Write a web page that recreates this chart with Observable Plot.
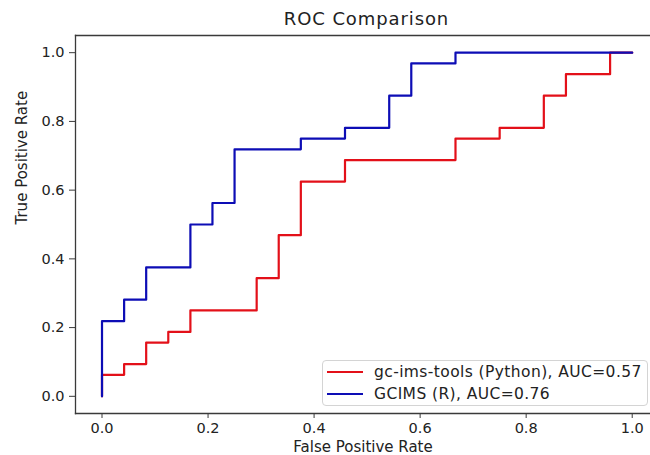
<!DOCTYPE html>
<html>
<head>
<meta charset="utf-8">
<script src="https://cdn.jsdelivr.net/npm/d3@7"></script>
<script src="https://cdn.jsdelivr.net/npm/@observablehq/plot@0.6"></script>
<style>
  html, body { margin: 0; padding: 0; background: #fff; }
  #wrap { position: relative; width: 650px; height: 455px; overflow: hidden; font-family: "DejaVu Sans", sans-serif; }
  #title { position: absolute; left: 75px; width: 583px; top: 8px; text-align: center; font-size: 18px; letter-spacing: 0.9px; color: #222; }
  #legend { position: absolute; left: 322px; top: 360px; width: 326px; height: 46px; box-sizing: border-box;
            border: 1px solid #d4d4d4; border-radius: 4px; background: rgba(255,255,255,0.85); }
  .row { position: absolute; left: 4px; height: 20px; display: flex; align-items: center; font-size: 15.5px; letter-spacing: 0.4px; color: #222; white-space: nowrap; }
  .sw { width: 36px; height: 2px; margin-right: 11px; }
</style>
</head>
<body>
<div id="wrap">
  <div id="chart"></div>
  <div id="title">ROC Comparison</div>
  <div id="legend"></div>
</div>
<script>
const seriesNames = ["gc-ims-tools (Python), AUC=0.57", "GCIMS (R), AUC=0.76"];
const seriesColors = ["#e31019", "#0d0db5"];

const redFpr = [0, 0, 0.0417, 0.0833, 0.125, 0.1667, 0.2917, 0.3333, 0.375, 0.4583, 0.6667, 0.75, 0.8333, 0.875, 0.9583, 1.0];
const redTpr = [0, 0.0625, 0.0938, 0.1563, 0.1875, 0.25, 0.3438, 0.4688, 0.625, 0.6875, 0.75, 0.7813, 0.875, 0.9375, 1.0, 1.0];
const blueFpr = [0, 0, 0.0417, 0.0833, 0.1667, 0.2083, 0.25, 0.375, 0.4583, 0.5417, 0.5833, 0.6667, 1.0];
const blueTpr = [0, 0.2188, 0.2813, 0.375, 0.5, 0.5625, 0.7188, 0.75, 0.7813, 0.875, 0.9688, 1.0, 1.0];

const xTicks = [0, 0.2, 0.4, 0.6, 0.8, 1.0];
const yTicks = [0, 0.2, 0.4, 0.6, 0.8, 1.0];

const xLabel = "False Positive Rate";
const yLabel = "True Positive Rate";

const red = redFpr.map((x, i) => ({x, y: redTpr[i]}));
const blue = blueFpr.map((x, i) => ({x, y: blueTpr[i]}));

const frameColor = "#3a3a3a";

const chart = Plot.plot({
  width: 650,
  height: 455,
  marginLeft: 75,
  marginRight: 0,
  marginTop: 35,
  marginBottom: 42,
  style: {fontFamily: "DejaVu Sans, sans-serif", fontSize: "14px", color: "#222", background: "#fff"},
  x: {domain: [-0.05, 1.0345], label: null},
  y: {domain: [-0.05, 1.05], label: null},
  marks: [
    Plot.axisX(xTicks, {tickSize: 5, tickPadding: 4, tickFormat: d3.format(".1f"), stroke: frameColor, fontSize: 14.5, label: null}),
    Plot.axisY(yTicks, {tickSize: 6, tickPadding: 5, tickFormat: d3.format(".1f"), stroke: frameColor, fontSize: 14.5, label: null}),
    Plot.line(red, {x: "x", y: "y", curve: "step-after", stroke: seriesColors[0], strokeWidth: 2.2}),
    Plot.line(blue, {x: "x", y: "y", curve: "step-after", stroke: seriesColors[1], strokeWidth: 2.2}),
    Plot.frame({anchor: "top", stroke: frameColor, strokeWidth: 1.3}),
    Plot.frame({anchor: "left", stroke: frameColor, strokeWidth: 1.3}),
    Plot.frame({anchor: "bottom", stroke: frameColor, strokeWidth: 1.3}),
    Plot.text([xLabel], {frameAnchor: "bottom", text: d => d, dy: 34, lineAnchor: "middle", fontSize: 15, letterSpacing: 0.5, fill: "#222"}),
    Plot.text([yLabel], {frameAnchor: "left", text: d => d, dx: -53, rotate: -90, lineAnchor: "middle", fontSize: 15, letterSpacing: 0.3, fill: "#222"})
  ]
});
document.getElementById("chart").appendChild(chart);

const legend = document.getElementById("legend");
seriesNames.forEach((name, i) => {
  const row = document.createElement("div");
  row.className = "row";
  row.style.top = (i === 0 ? 1 : 23) + "px";
  const sw = document.createElement("div");
  sw.className = "sw";
  sw.style.background = seriesColors[i];
  const t = document.createElement("span");
  t.textContent = name;
  row.appendChild(sw);
  row.appendChild(t);
  legend.appendChild(row);
});
</script>
</body>
</html>
